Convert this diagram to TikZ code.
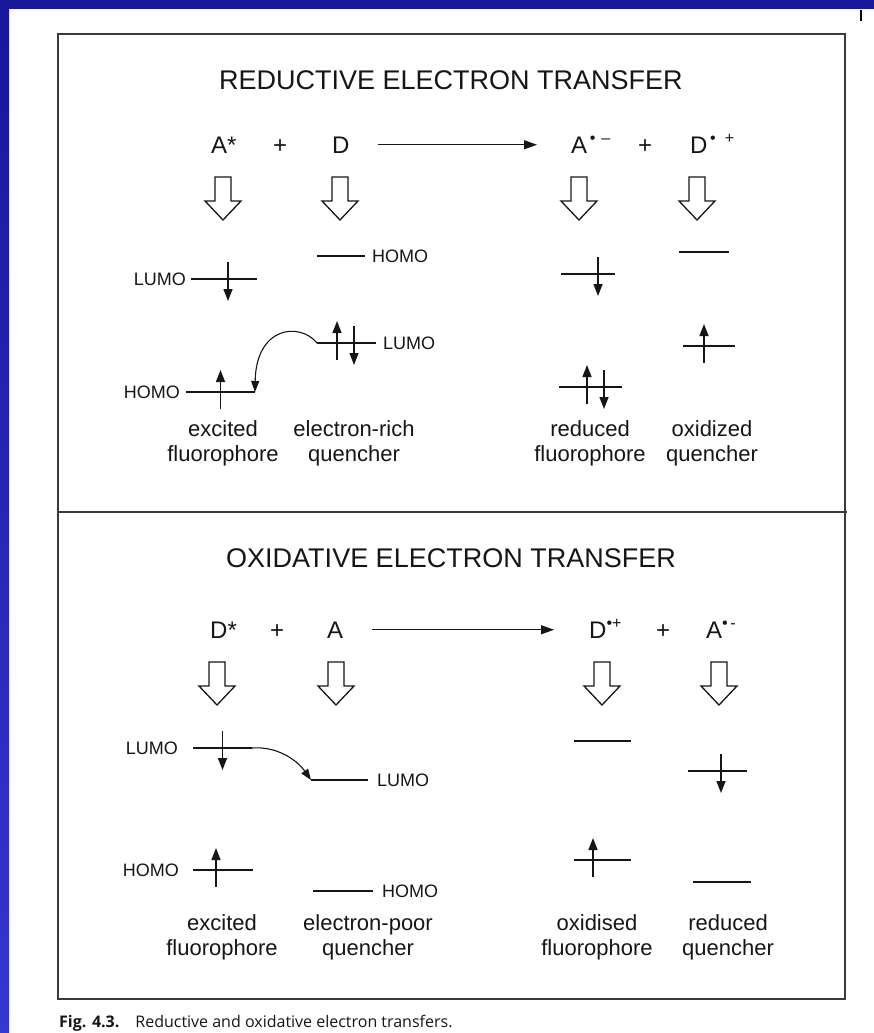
\documentclass[tikz,border=0pt]{standalone}
\usepackage{fontspec}
\setmainfont{Liberation Sans}
\newfontfamily\capfont{Open Sans}
\usetikzlibrary{arrows.meta, positioning}
\definecolor{ink}{HTML}{161616}
\definecolor{frame}{HTML}{3A3A3A}
\definecolor{bandtop}{HTML}{17179A}
\definecolor{bandbot}{HTML}{3636D2}
\newcommand{\charge}[1]{\raisebox{10pt}{\fontsize{16}{16}\selectfont #1}}
\tikzset{
  heading/.style={font=\fontsize{27}{27}\selectfont, text=ink, inner sep=0pt},
  species/.style={font=\fontsize{24}{24}\selectfont, text=ink, inner sep=0pt, anchor=base west},
  orbit/.style={rectangle, fill=ink, minimum width=#1, minimum height=2.6pt, inner sep=0pt, outer sep=0pt},
  orbital/.style={font=\fontsize{18}{18}\selectfont, text=ink, inner sep=0pt},
  role/.style={font=\fontsize{22}{25}\selectfont, text=ink, align=center, inner sep=0pt},
  react/.style={-{Triangle[length=13pt,width=9pt]}, draw=ink, line width=1.1pt},
  spin/.style={-{Triangle[length=12pt,width=9pt]}, draw=ink, line width=1.4pt},
  hop/.style={-{Triangle[length=11pt,width=8pt]}, draw=ink, line width=1.1pt},
  spinup/.pic={\draw[spin] (0,17) -- (0,-22);},
  spindown/.pic={\draw[spin] (0,-17) -- (0,22);},
  hollowarrow/.pic={\draw[draw=ink, line width=1.3pt, fill=white, line join=miter]
    (-8,0) -- (-8,24) -- (-18,24) -- (0,43) -- (18,24) -- (8,24) -- (8,0) -- cycle;}
}

\begin{document}
\begin{tikzpicture}[x=1pt, y=-1pt, node distance=6pt]
  \useasboundingbox (0,0) rectangle (874,1033);
  \fill[white] (0,0) rectangle (874,1033);
  \fill[bandtop] (0,0) rectangle (874,9);
  \shade[top color=bandtop, bottom color=bandbot] (0,0) rectangle (9,1033);
  \draw[black, line width=2.5pt] (861,10) -- (861,21);
  \draw[frame, line width=1.2pt] (58,34) rectangle (845,999);
  \draw[frame, line width=1.2pt] (58,512) -- (847,512);

  \node[heading] (redTitle) at (451,80) {REDUCTIVE ELECTRON TRANSFER};
  \node[species] (rAs) at (211,153) {A*};
  \node[species] (rPlusA) at (273,153) {+};
  \node[species] (rD) at (332,153) {D};
  \node[species] (rAm) at (571,153) {A\charge{\,•\hspace{6pt}–}};
  \node[species] (rPlusB) at (638,153) {+};
  \node[species] (rDp) at (690,153) {D\charge{\,•\hspace{9pt}+}};
  \draw[react, shorten <=28pt, shorten >=34pt] (rD.east) -- (rD.east -| rAm.west);

  \pic at (223,177) {hollowarrow};
  \pic at (340,177) {hollowarrow};
  \pic at (579,177) {hollowarrow};
  \pic at (697,177) {hollowarrow};

  \node[orbit=66pt] (rLumoA) at (224,279) {};
  \node[orbit=69pt] (rHomoA) at (220.5,392) {};
  \node[orbit=48pt] (rHomoD) at (341,256) {};
  \node[orbit=59pt] (rLumoD) at (346.5,343) {};
  \node[orbital, left=5pt of rLumoA] (rLumoAtxt) {LUMO};
  \node[orbital, left=6pt of rHomoA] (rHomoAtxt) {HOMO};
  \node[orbital, right=7pt of rHomoD] (rHomoDtxt) {HOMO};
  \node[orbital, right=7pt of rLumoD] (rLumoDtxt) {LUMO};
  \pic at ([xshift=4pt]rLumoA.center) {spindown};
  \pic at (rHomoA.center) {spinup};
  \pic at ([xshift=-9.5pt]rLumoD.center) {spinup};
  \pic at ([xshift=7.5pt]rLumoD.center) {spindown};
  \draw[hop] (rLumoD.west) .. controls +(-17,-21) and +(1,-66) .. (rHomoA.east);

  \node[orbit=54pt] (rLumoAm) at (588,274) {};
  \node[orbit=63pt] (rHomoAm) at (590.5,387) {};
  \node[orbit=50pt] (rLumoDp) at (704,252) {};
  \node[orbit=52pt] (rHomoDp) at (709,346) {};
  \pic at ([xshift=10pt]rLumoAm.center) {spindown};
  \pic at ([xshift=-3.5pt]rHomoAm.center) {spinup};
  \pic at ([xshift=13.5pt]rHomoAm.center) {spindown};
  \pic at ([xshift=-5pt]rHomoDp.center) {spinup};

  \node[role] (rExc) at (223,443) {excited\\fluorophore};
  \node[role] (rRich) at (354,443) {electron-rich\\quencher};
  \node[role] (rRed) at (590,443) {reduced\\fluorophore};
  \node[role] (rOxi) at (712,443) {oxidized\\quencher};

  \node[heading] (oxTitle) at (451,558) {OXIDATIVE ELECTRON TRANSFER};
  \node[species] (oDs) at (210,638) {D*};
  \node[species] (oPlusA) at (270,638) {+};
  \node[species] (oA) at (327,638) {A};
  \node[species] (oDp) at (589,638) {D\charge{•+}};
  \node[species] (oPlusB) at (656,638) {+};
  \node[species] (oAm) at (706,638) {A\charge{•\,-}};
  \draw[react, shorten <=29pt, shorten >=35pt] (oA.east) -- (oA.east -| oDp.west);

  \pic at (217,662) {hollowarrow};
  \pic at (336,662) {hollowarrow};
  \pic at (602,662) {hollowarrow};
  \pic at (719,662) {hollowarrow};

  \node[orbit=59pt] (oLumoD) at (222.5,748) {};
  \node[orbit=60pt] (oHomoD) at (223,870) {};
  \node[orbit=57pt] (oLumoA) at (339.5,780) {};
  \node[orbit=60pt] (oHomoA) at (343,891) {};
  \node[orbital, left=15pt of oLumoD] (oLumoDtxt) {LUMO};
  \node[orbital, left=14pt of oHomoD] (oHomoDtxt) {HOMO};
  \node[orbital, right=9pt of oLumoA] (oLumoAtxt) {LUMO};
  \node[orbital, right=9pt of oHomoA] (oHomoAtxt) {HOMO};
  \pic at (oLumoD.center) {spindown};
  \pic at ([xshift=-7pt]oHomoD.center) {spinup};
  \draw[hop] (oLumoD.east) .. controls +(25,-2) and +(-14,-20) .. (oLumoA.west);

  \node[orbit=57pt] (oLumoDp) at (602.5,741) {};
  \node[orbit=57pt] (oHomoDp) at (602.5,860) {};
  \node[orbit=59pt] (oLumoAm) at (717.5,771) {};
  \node[orbit=58pt] (oHomoAm) at (722,882) {};
  \pic at ([xshift=-9.5pt]oHomoDp.center) {spinup};
  \pic at ([xshift=3.5pt]oLumoAm.center) {spindown};

  \node[role] (oExc) at (222,937) {excited\\fluorophore};
  \node[role] (oPoor) at (368,937) {electron-poor\\quencher};
  \node[role] (oOxd) at (597,937) {oxidised\\fluorophore};
  \node[role] (oRed) at (728,937) {reduced\\quencher};

  \node[anchor=base west, inner sep=0pt, text=ink, font=\capfont\fontsize{16}{16}\selectfont] (figCap) at (59,1027)
    {\textbf{Fig. 4.3.}\hspace{16pt}Reductive and oxidative electron transfers.};
\end{tikzpicture}
\end{document}
